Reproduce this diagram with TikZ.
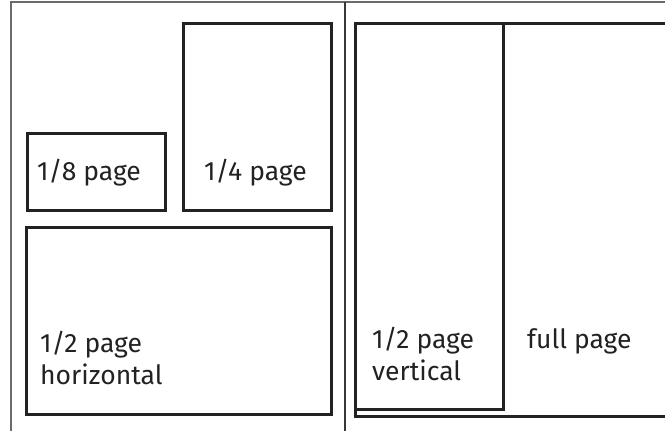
\documentclass[tikz,border=0pt]{standalone}
\usepackage{fontspec}
\setmainfont{Fira Sans}
\definecolor{frame}{HTML}{6A6A6A}
\definecolor{ink}{HTML}{222222}
\begin{document}
\begin{tikzpicture}[x=1pt,y=-1pt,
  adbox/.style={draw=ink,line width=2.5pt,rectangle,inner sep=0pt,anchor=north west},
  lbl/.style={text=ink,font=\fontsize{26.5}{32}\selectfont,inner sep=0pt,anchor=base west,align=left}]
\useasboundingbox (0,0) rectangle (665,431);
\clip (0,0) rectangle (665,431);
% frame
\draw[frame,line width=2pt] (11,431) -- (11,2) -- (668,2);
\draw[ink!90,line width=2pt] (345,2) -- (345,431);
% boxes
\node[adbox,minimum width=138pt,minimum height=77pt] (e) at (26,132) {};
\node[adbox,minimum width=148pt,minimum height=187pt] (q) at (182,22) {};
\node[adbox,minimum width=305pt,minimum height=187pt] (h) at (25,226) {};
\node[adbox,minimum width=330pt,minimum height=393pt] (f) at (354,22) {};
\node[adbox,minimum width=148pt,minimum height=386pt] (v) at (354,22) {};
% labels
\node[lbl] (te) at (37,180) {1/8 page};
\node[lbl] (tq) at (204,180) {1/4 page};
\node[lbl] (th) at (40,384) {1/2 page\\horizontal};
\node[lbl] (tv) at (372,380) {1/2 page\\vertical};
\node[lbl] (tf) at (527,348) {full page};
\end{tikzpicture}
\end{document}
